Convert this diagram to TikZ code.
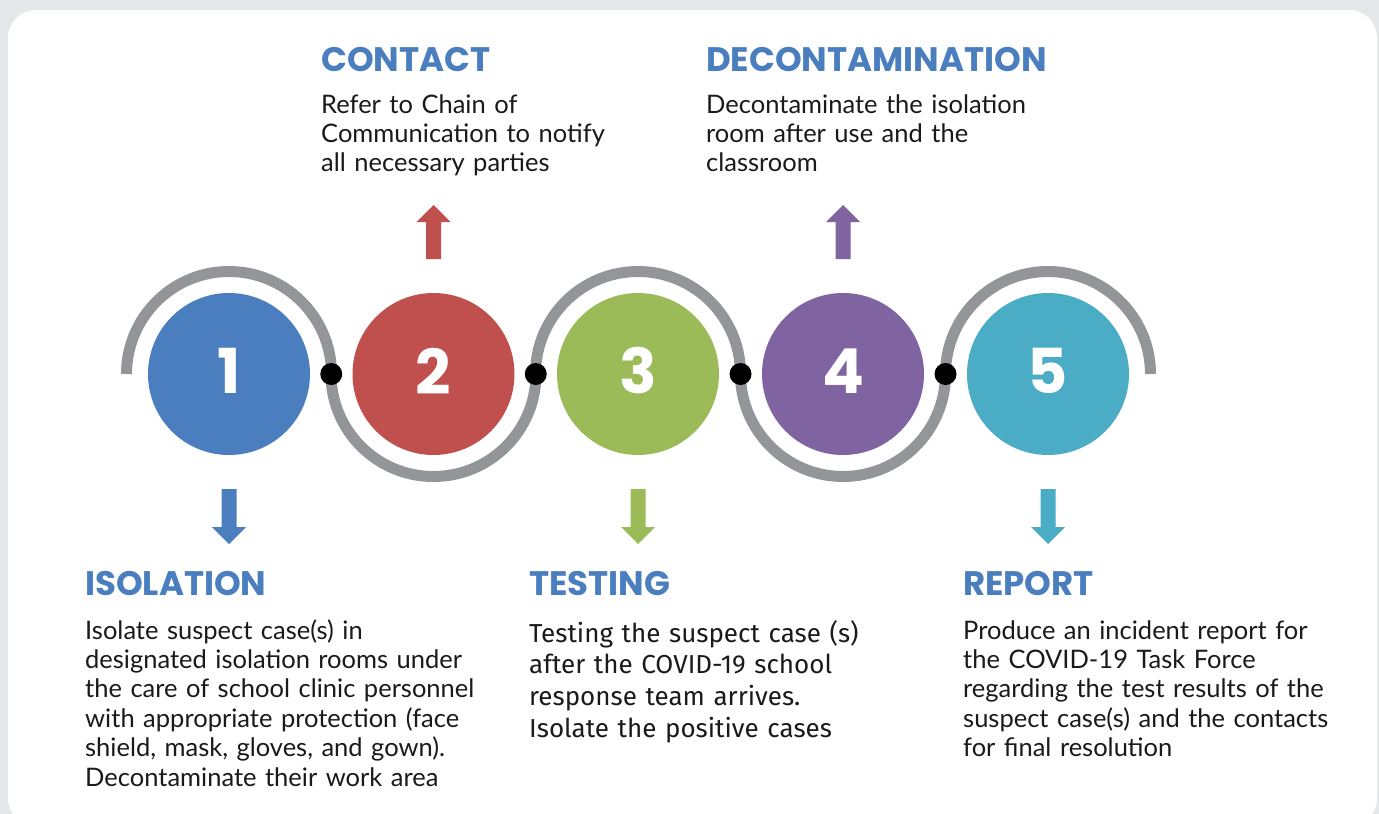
\documentclass[tikz,border=0pt]{standalone}
\usepackage{fontspec}
\usetikzlibrary{calc}
\setmainfont{Lato}
\newfontfamily\headfont{Poppins}
\newfontfamily\testfont{Fira Sans}
\definecolor{bggray}{HTML}{E6E7E9}
\definecolor{arcgray}{HTML}{939598}
\definecolor{headblue}{HTML}{4A7EBF}
\definecolor{cblue}{HTML}{4A7EBF}
\definecolor{cred}{HTML}{C0504D}
\definecolor{cgreen}{HTML}{9BBB59}
\definecolor{cpurple}{HTML}{8064A2}
\definecolor{cteal}{HTML}{4BACC6}
\definecolor{textblack}{HTML}{1A1A1A}
\begin{document}
\begin{tikzpicture}[x=1pt,y=-1pt,
  numcirc/.style={circle, minimum size=162pt, inner sep=0pt, fill=#1},
  numtext/.style={inner sep=0pt, text=white,
    font=\headfont\bfseries\fontsize{62}{62}\selectfont},
  arcline/.style={draw=arcgray, line width=11pt},
  joint/.style={circle, fill=black, minimum size=22pt, inner sep=0pt},
  head/.style={anchor=base west, inner sep=0pt, text=headblue,
    font=\headfont\bfseries\fontsize{34}{34}\selectfont},
  body/.style={anchor=base west, inner sep=0pt, text width=420pt, align=left,
    text=textblack, font=\fontsize{25.5}{29.4}\selectfont},
  testbody/.style={anchor=base west, inner sep=0pt, text width=420pt, align=left,
    text=textblack, font=\testfont\fontsize{26}{31.7}\selectfont},
]
\useasboundingbox (0,0) rectangle (1379,814);
\fill[bggray] (0,0) rectangle (1379,814);
\fill[white, rounded corners=28pt] (8,10) rectangle (1377,826);

% circles
\node[numcirc=cblue]   (c1) at (229,374)   {};
\node[numcirc=cred]    (c2) at (433.5,374) {};
\node[numcirc=cgreen]  (c3) at (638,374)   {};
\node[numcirc=cpurple] (c4) at (843,374)   {};
\node[numcirc=cteal]   (c5) at (1048,374)  {};
\node[numtext] (n1) at ([yshift=3pt]c1.center) {1};
\node[numtext] (n2) at ([yshift=3pt]c2.center) {2};
\node[numtext] (n3) at ([yshift=3pt]c3.center) {3};
\node[numtext] (n4) at ([yshift=3pt]c4.center) {4};
\node[numtext] (n5) at ([yshift=3pt]c5.center) {5};

% arcs
\draw[arcline] ([xshift=-102.5pt]c1.center) arc[start angle=180, end angle=0, radius=102.5pt];
\draw[arcline] ([xshift=-102.5pt]c2.center) arc[start angle=180, end angle=360, radius=102.5pt];
\draw[arcline] ([xshift=-102.5pt]c3.center) arc[start angle=180, end angle=0, radius=102.5pt];
\draw[arcline] ([xshift=-102.5pt]c4.center) arc[start angle=180, end angle=360, radius=102.5pt];
\draw[arcline] ([xshift=-102.5pt]c5.center) arc[start angle=180, end angle=0, radius=102.5pt];

% joints
\node[joint] (d1) at ($(c1)!0.5!(c2)$) {};
\node[joint] (d2) at ($(c2)!0.5!(c3)$) {};
\node[joint] (d3) at ($(c3)!0.5!(c4)$) {};
\node[joint] (d4) at ($(c4)!0.5!(c5)$) {};

% arrows
\coordinate (u2) at (433.5,205);
\coordinate (u4) at (843,205);
\coordinate (w1) at (229,544);
\coordinate (w3) at (638,544);
\coordinate (w5) at (1048,544);
\fill[cred]    (u2) -- ++(17,17) -- ++(-9.5,0) -- ++(0,37) -- ++(-15,0) -- ++(0,-37) -- ++(-9.5,0) -- cycle;
\fill[cpurple] (u4) -- ++(17,17) -- ++(-9.5,0) -- ++(0,37) -- ++(-15,0) -- ++(0,-37) -- ++(-9.5,0) -- cycle;
\fill[cblue]   (w1) -- ++(17,-17) -- ++(-9.5,0) -- ++(0,-38) -- ++(-15,0) -- ++(0,38) -- ++(-9.5,0) -- cycle;
\fill[cgreen]  (w3) -- ++(17,-17) -- ++(-9.5,0) -- ++(0,-38) -- ++(-15,0) -- ++(0,38) -- ++(-9.5,0) -- cycle;
\fill[cteal]   (w5) -- ++(17,-17) -- ++(-9.5,0) -- ++(0,-38) -- ++(-15,0) -- ++(0,38) -- ++(-9.5,0) -- cycle;

% texts
\node[head] (h2) at (321,71) {CONTACT};
\node[body] (t2) at (321,113) {Refer to Chain of\\Communication to notify\\all necessary parties};
\node[head] (h4) at (706,71) {DECONTAMINATION};
\node[body] (t4) at (706,113) {Decontaminate the isolation\\room after use and the\\classroom};
\node[head] (h1) at (85,595) {ISOLATION};
\node[body] (t1) at (85,639) {Isolate suspect case(s) in\\designated isolation rooms under\\the care of school clinic personnel\\with appropriate protection (face\\shield, mask, gloves, and gown).\\Decontaminate their work area};
\node[head] (h3) at (529,595) {TESTING};
\node[testbody] (t3) at (529,642) {Testing the suspect case (s)\\after the COVID-19 school\\response team arrives.\\Isolate the positive cases};
\node[head] (h5) at (963,595) {REPORT};
\node[body] (t5) at (963,639) {Produce an incident report for\\the COVID-19 Task Force\\regarding the test results of the\\suspect case(s) and the contacts\\for final resolution};
\end{tikzpicture}
\end{document}
